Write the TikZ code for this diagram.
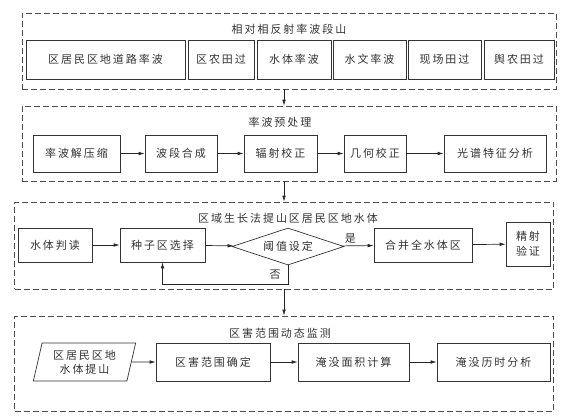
\documentclass[tikz,border=0pt]{standalone}
\usepackage{fontspec}
\setmainfont{Noto Sans CJK SC}[LetterSpace=18]
\usetikzlibrary{arrows.meta,shapes.geometric}

\begin{document}
\begin{tikzpicture}[x=1pt,y=-1pt,
  box/.style={draw=black!80,line width=.7pt,inner sep=0pt,align=center,
              text=black!80,font=\fontsize{11}{14}\selectfont},
  frame/.style={draw=black!70,line width=.7pt,dash pattern=on 6pt off 3pt,
                inner sep=0pt},
  ttl/.style={text=black!80,font=\fontsize{11}{14}\selectfont},
  arr/.style={-{Latex[length=6pt,width=3.6pt]},line width=.7pt,black!85}]
\useasboundingbox (0,0) rectangle (569,415);
% frames
\node[frame,minimum width=534,minimum height=76] (f1) at (289,51) {};
\node[frame,minimum width=534,minimum height=75] (f2) at (289,143.5) {};
\node[frame,minimum width=539,minimum height=87] (f3) at (284,245.5) {};
\node[frame,minimum width=539,minimum height=95] (f4) at (284,363.5) {};
% band data
\node[ttl] (t1) at (289,29) {相对相反射率波段山};
\node[box,minimum width=159,minimum height=39] (road) at (105.5,59.5) {区居民区地道路率波};
\node[box,minimum width=66,minimum height=39] (farm) at (221,59.5) {区农田过};
\node[box,minimum width=74,minimum height=39] (water) at (294,59.5) {水体率波};
\node[box,minimum width=73,minimum height=39] (hydro) at (369.5,59.5) {水文率波};
\node[box,minimum width=73,minimum height=39] (field) at (444.5,59.5) {现场田过};
\node[box,minimum width=70,minimum height=39] (yu) at (519,59.5) {舆农田过};
% preprocessing
\node[ttl] (t2) at (280,122) {率波预处理};
\node[box,minimum width=87,minimum height=37] (unzip) at (76.5,153.5) {率波解压缩};
\node[box,minimum width=72,minimum height=37] (comb) at (181,153.5) {波段合成};
\node[box,minimum width=73,minimum height=37] (rad) at (280.5,153.5) {辐射校正};
\node[box,minimum width=62,minimum height=37] (geo) at (375,153.5) {几何校正};
\node[box,minimum width=102,minimum height=37] (spec) at (495,153.5) {光谱特征分析};
\draw[arr] (unzip) -- (comb);
\draw[arr] (comb) -- (rad);
\draw[arr] (rad) -- (geo);
\draw[arr] (geo) -- (spec);
% region growing
\node[ttl] (t3) at (288,218.5) {区域生长法提山区居民区地水体};
\node[box,minimum width=74,minimum height=34] (read) at (55,245) {水体判读};
\node[box,minimum width=85,minimum height=34] (seed) at (162.5,245) {种子区选择};
\node[box,shape=diamond,aspect=3,minimum width=112,minimum height=37] (thr) at (288,246.5) {阈值设定};
\node[box,minimum width=98,minimum height=34] (merge) at (423,245) {合并全水体区};
\node[box,minimum width=44,minimum height=44,font=\fontsize{11}{15}\selectfont] (check) at (528,244) {精射\\验证};
\draw[arr] (read) -- (seed);
\draw[arr] (seed) -- (thr);
\draw[arr] (thr) -- node[pos=.25,above,inner sep=2pt,ttl]{是} (merge);
\draw[arr] (merge) -- (check);
\draw[arr] (thr.south) -- node[left,inner sep=7pt,ttl]{否} ++(0,18.5) -| (seed.south);
% flood monitoring
\node[ttl] (t4) at (280,333) {区害范围动态监测};
\node[box,shape=trapezium,trapezium left angle=75,trapezium right angle=105,
      trapezium stretches=true,minimum width=103,minimum height=38] (src) at (84.5,362) {区居民区地\\水体提山};
\node[box,minimum width=114,minimum height=38] (range) at (213,362) {区害范围确定};
\node[box,minimum width=111,minimum height=38] (area) at (353.5,362) {淹没面积计算};
\node[box,minimum width=113,minimum height=38] (dur) at (493.5,362) {淹没历时分析};
\draw[arr] (src) -- (range);
\draw[arr] (range) -- (area);
\draw[arr] (area) -- (dur);
% between stages
\draw[arr] (f1.south -| f3.center) -- (f2.north -| f3.center);
\draw[arr] (f2.south -| f3.center) -- (f3.north);
\draw[arr] (f3.south) -- (f4.north);
\end{tikzpicture}
\end{document}
